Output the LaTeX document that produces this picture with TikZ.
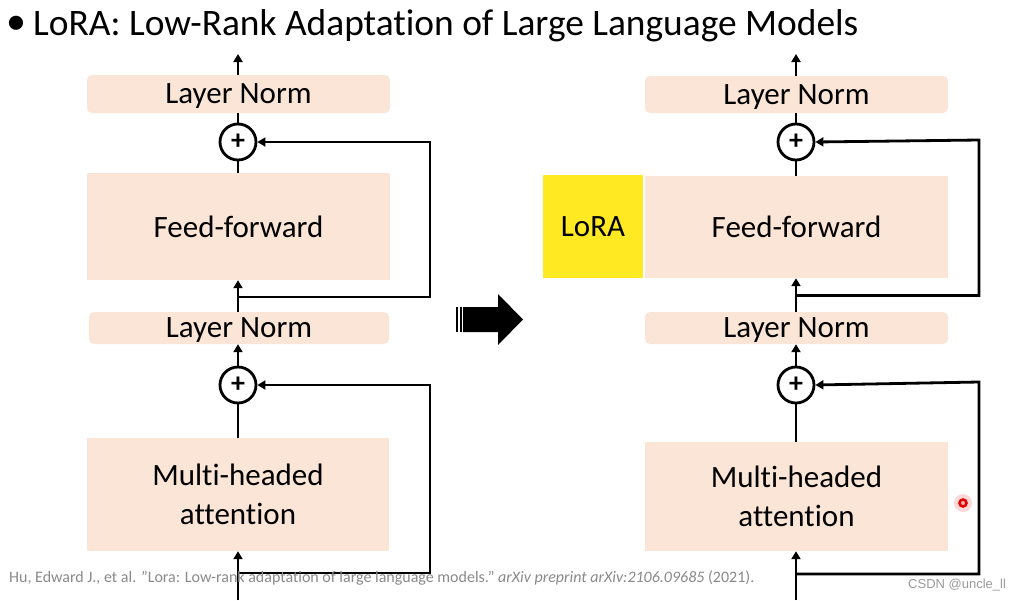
\documentclass[tikz,border=0pt]{standalone}
\usepackage{fontspec}
\setmainfont[Ligatures={NoCommon,NoRare}]{Carlito}
\newfontfamily\wmfont{Liberation Sans}
\usetikzlibrary{arrows.meta}
\definecolor{peach}{HTML}{FBE5D6}
\definecolor{loray}{RGB}{255,233,35}
\definecolor{citegray}{HTML}{8A8A8A}
\definecolor{wmgray}{HTML}{9A9A9A}
\begin{document}
\begin{tikzpicture}[x=1pt,y=-1pt,
  conn/.style={line width=2.8pt,draw=black},
  arr/.style={conn,-{Triangle[length=8pt,width=9pt]}},
  lnbox/.style={fill=peach,rounded corners=5pt,inner sep=0pt,text depth=0pt,font=\fontsize{31}{36}\selectfont},
  bigbox/.style={fill=peach,inner sep=0pt,align=center,font=\fontsize{31}{38}\selectfont},
  plusnode/.style={circle,draw=black,line width=2.8pt,fill=white,minimum size=36pt,inner sep=0pt,font=\fontsize{28}{28}\selectfont\bfseries}
]
\useasboundingbox (0,0) rectangle (1022,600);
\fill[white] (0,0) rectangle (1022,600);

% title
\node[anchor=center,inner sep=0pt,font=\fontsize{40}{40}\selectfont] (bullet) at (16,25) {\textbullet};
\node[anchor=base west,inner sep=0pt,font=\fontsize{37.4}{40}\selectfont] (title) at (33,35) {LoRA: Low-Rank Adaptation of Large Language Models};

% ---------- left column ----------
\node[lnbox,minimum width=303pt,minimum height=38pt] (lnA) at (238.5,94) {Layer Norm};
\node[plusnode] (pA) at (238,142) {+};
\node[bigbox,minimum width=303pt,minimum height=107pt] (ffA) at (238.5,226.5) {Feed-forward};
\node[lnbox,minimum width=300pt,minimum height=32pt] (ln2A) at (239,328) {Layer Norm};
\node[plusnode] (p2A) at (238,385) {+};
\node[bigbox,minimum width=302pt,minimum height=113pt] (mhaA) at (238,494.5) {Multi-headed\\[1pt]attention};

\coordinate (topA) at (238,54);
\coordinate (botA) at (238,600);
\coordinate (j1A) at (238,297);
\coordinate (c1A) at (430,142);
\coordinate (j2A) at (238,573);
\coordinate (c2A) at (430,385);

\draw[arr] (lnA.north -| topA) -- (topA);
\draw[conn] (lnA.south -| pA) -- (pA.north);
\draw[conn] (pA.south) -- (ffA.north -| pA);
\draw[arr] (ln2A.north -| pA) -- (ffA.south -| pA);
\draw[arr] (j1A) -| (c1A) -- (pA.east);
\draw[arr] (p2A.north) -- (ln2A.south -| p2A);
\draw[conn] (p2A.south) -- (mhaA.north -| p2A);
\draw[arr] (botA) -- (mhaA.south -| botA);
\draw[arr] (j2A) -| (c2A) -- (p2A.east);

% ---------- middle arrow ----------
\fill[black] (455.5,307) rectangle (457.5,332);
\fill[black] (459.5,307) rectangle (462,332);
\fill[black] (463,307) -- (498,307) -- (498,294) -- (523,319.5) -- (498,345) -- (498,332) -- (463,332) -- cycle;

% ---------- right column ----------
\node[lnbox,minimum width=303pt,minimum height=37pt] (lnB) at (796.5,94.5) {Layer Norm};
\node[plusnode] (pB) at (796,142) {+};
\node[bigbox,minimum width=303pt,minimum height=102pt] (ffB) at (796.5,227) {Feed-forward};
\node[fill=loray,inner sep=0pt,minimum width=100pt,minimum height=103pt,font=\fontsize{31}{36}\selectfont] (lora) at (593,226.5) {LoRA};
\node[lnbox,minimum width=303pt,minimum height=32pt] (ln2B) at (796.5,328) {Layer Norm};
\node[plusnode] (p2B) at (796,385) {+};
\node[bigbox,minimum width=303pt,minimum height=109pt] (mhaB) at (796.5,496.5) {Multi-headed\\[1pt]attention};

\coordinate (topB) at (796,54);
\coordinate (botB) at (796,600);
\coordinate (j1B) at (796,295.5);
\coordinate (c1B) at (979,140);
\coordinate (j2B) at (796,574);
\coordinate (c2B) at (979,382);

\draw[arr] (lnB.north -| topB) -- (topB);
\draw[conn] (lnB.south -| pB) -- (pB.north);
\draw[conn] (pB.south) -- (ffB.north -| pB);
\draw[arr] (ln2B.north -| pB) -- (ffB.south -| pB);
\draw[arr] (j1B) -| (c1B) -- (pB.east);
\draw[arr] (p2B.north) -- (ln2B.south -| p2B);
\draw[conn] (p2B.south) -- (mhaB.north -| p2B);
\draw[arr] (botB) -- (mhaB.south -| botB);
\draw[arr] (j2B) -| (c2B) -- (p2B.east);

% laser pointer dot
\fill[red,opacity=0.15] (963,503) circle (9pt);
\draw[red!90!black,line width=2.5pt,fill=red!30] (963,503) circle (3.5pt);

% citation
\node[anchor=base west,inner sep=0pt,text=citegray,font=\fontsize{16}{18}\selectfont] (cite) at (9,582) {Hu, Edward J., et al. "Lora: Low-rank adaptation of large language models." \textit{arXiv preprint arXiv:2106.09685} (2021).};

% watermark
\node[anchor=base west,inner sep=0pt,text=wmgray,font=\wmfont\fontsize{13}{15}\selectfont] (wm) at (908,588) {CSDN @uncle\_ll};
\end{tikzpicture}
\end{document}
